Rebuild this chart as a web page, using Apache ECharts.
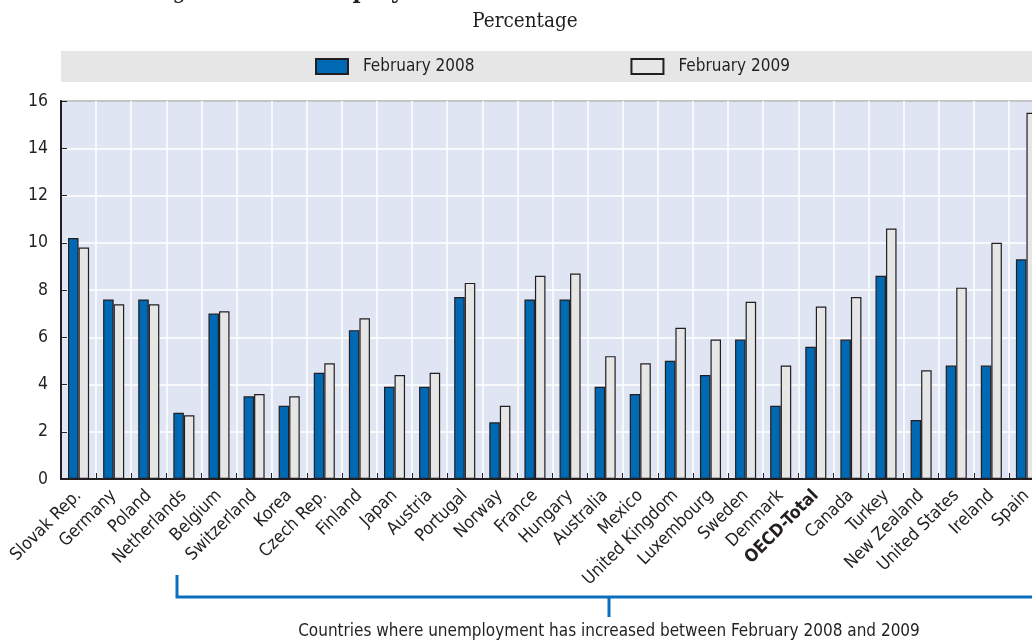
<!DOCTYPE html>
<html>
<head>
<meta charset="utf-8">
<title>Unemployment rates, February 2008 and February 2009</title>
<script src="https://cdn.jsdelivr.net/npm/echarts@6/dist/echarts.min.js"></script>
<style>
  html, body { margin: 0; padding: 0; background: #ffffff; }
  #chart { width: 1032px; height: 642px; }
</style>
</head>
<body>
<div id="chart"></div>
<script>
// Countries, ordered as plotted
const countries = [
  'Slovak Rep.', 'Germany', 'Poland', 'Netherlands', 'Belgium', 'Switzerland',
  'Korea', 'Czech Rep.', 'Finland', 'Japan', 'Austria', 'Portugal', 'Norway',
  'France', 'Hungary', 'Australia', 'Mexico', 'United Kingdom', 'Luxembourg',
  'Sweden', 'Denmark', 'OECD-Total', 'Canada', 'Turkey', 'New Zealand',
  'United States', 'Ireland', 'Spain'
];

// Unemployment rate (%), February 2008
const feb2008 = [
  10.2, 7.6, 7.6, 2.8, 7.0, 3.5,
  3.1, 4.5, 6.3, 3.9, 3.9, 7.7, 2.4,
  7.6, 7.6, 3.9, 3.6, 5.0, 4.4,
  5.9, 3.1, 5.6, 5.9, 8.6, 2.5,
  4.8, 4.8, 9.3
];

// Unemployment rate (%), February 2009
const feb2009 = [
  9.8, 7.4, 7.4, 2.7, 7.1, 3.6,
  3.5, 4.9, 6.8, 4.4, 4.5, 8.3, 3.1,
  8.6, 8.7, 5.2, 4.9, 6.4, 5.9,
  7.5, 4.8, 7.3, 7.7, 10.6, 4.6,
  8.1, 10.0, 15.5
];

const seriesNames = ['February 2008', 'February 2009'];
const yTicks = { min: 0, max: 16, step: 2 };
const totalLabel = 'OECD-Total';
const subtitle = 'Percentage';
const bracketNote = 'Countries where unemployment has increased between February 2008 and 2009';

const NARROW = '"DejaVu Sans Condensed", Roboto, "Liberation Sans", sans-serif';
const SERIF = '"DejaVu Serif Condensed", "DejaVu Serif", serif';
const INK = '#231f20';
const BLUE = '#0a6ebd';
const FS = 17.5;

const chart = echarts.init(document.getElementById('chart'), null, { renderer: 'canvas' });

const option = {
  animation: false,
  backgroundColor: '#ffffff',
  grid: {
    left: 61,
    top: 101,
    width: 983,
    bottom: 163,
    outerBoundsMode: 'none',
    containLabel: false,
    show: true,
    backgroundColor: '#dfe5f3',
    borderColor: INK,
    borderWidth: 2
  },
  legend: {
    data: seriesNames,
    icon: 'rect',
    left: 310,
    top: 53,
    itemWidth: 32,
    itemHeight: 15,
    itemGap: 156,
    textStyle: {
      fontFamily: NARROW,
      fontSize: 17,
      color: INK,
      padding: [0, 0, 0, 10]
    }
  },
  xAxis: {
    type: 'category',
    data: countries,
    axisLine: { show: true, lineStyle: { color: INK, width: 2 } },
    axisTick: {
      show: true,
      inside: true,
      length: 6,
      interval: 0,
      lineStyle: { color: INK, width: 1 }
    },
    splitLine: {
      show: true,
      interval: 0,
      lineStyle: { color: '#ffffff', width: 1.5 }
    },
    axisLabel: {
      interval: 0,
      rotate: 45,
      margin: 14,
      fontFamily: NARROW,
      fontSize: FS,
      color: INK,
      formatter: function (v) {
        return v === totalLabel ? '{b|' + v + '}' : v;
      },
      rich: {
        b: { fontFamily: NARROW, fontSize: FS, fontWeight: 'bold', color: INK }
      }
    }
  },
  yAxis: {
    type: 'value',
    min: yTicks.min,
    max: yTicks.max,
    interval: yTicks.step,
    axisLine: { show: true, lineStyle: { color: INK, width: 2 } },
    axisTick: { show: true, inside: true, length: 6, lineStyle: { color: INK } },
    splitLine: { show: true, lineStyle: { color: '#ffffff', width: 1.5 } },
    axisLabel: {
      margin: 13,
      fontFamily: NARROW,
      fontSize: FS,
      color: INK
    }
  },
  series: [
    {
      name: seriesNames[0],
      type: 'bar',
      data: feb2008,
      barGap: '0%',
      barCategoryGap: '40%',
      itemStyle: { color: '#0069b4', borderColor: INK, borderWidth: 1.2 }
    },
    {
      name: seriesNames[1],
      type: 'bar',
      data: feb2009,
      barGap: '0%',
      barCategoryGap: '40%',
      itemStyle: { color: '#e6e6e6', borderColor: INK, borderWidth: 1.2 }
    }
  ],
  graphic: [
    // grey band behind the legend
    {
      type: 'rect',
      z: -10,
      shape: { x: 61, y: 51, width: 1000, height: 31 },
      style: { fill: '#e6e6e6' },
      silent: true
    },
    // heading, running off the top edge
    {
      type: 'text',
      x: 150,
      y: 3,
      style: {
        text: '{n|Figure 1.2. }{b|Unemployment rates}',
        verticalAlign: 'bottom',
        rich: {
          n: { fontFamily: '"DejaVu Serif", serif', fontSize: 22, fill: INK },
          b: { fontFamily: '"DejaVu Serif", serif', fontSize: 22, fontWeight: 'bold', fill: INK }
        }
      }
    },
    {
      type: 'text',
      x: 525,
      y: 22,
      style: {
        text: subtitle,
        align: 'center',
        verticalAlign: 'middle',
        fontFamily: SERIF,
        fontSize: 20.5,
        fill: INK
      }
    },
    // bracket marking the countries with rising unemployment
    {
      type: 'polyline',
      shape: { points: [[177, 575], [177, 597], [1041, 597], [1041, 575]] },
      style: { stroke: BLUE, lineWidth: 3, fill: null }
    },
    {
      type: 'line',
      shape: { x1: 609, y1: 597, x2: 609, y2: 617 },
      style: { stroke: BLUE, lineWidth: 3 }
    },
    {
      type: 'text',
      x: 609,
      y: 632,
      style: {
        text: bracketNote,
        align: 'center',
        verticalAlign: 'middle',
        fontFamily: NARROW,
        fontSize: 17,
        fill: INK
      }
    }
  ]
};

chart.setOption(option);
</script>
</body>
</html>
